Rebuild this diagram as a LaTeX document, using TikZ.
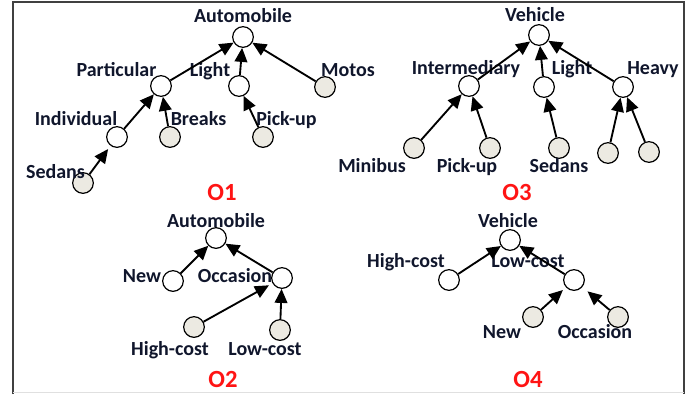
\documentclass[tikz,border=0pt]{standalone}
\usepackage{fontspec}
\setmainfont{Carlito}
\usetikzlibrary{arrows.meta}
\definecolor{ink}{RGB}{16,22,44}
\definecolor{leaf}{RGB}{236,234,226}
\definecolor{tag}{RGB}{255,20,20}
\begin{document}
\begin{tikzpicture}[x=0.75pt,y=-0.75pt,
  concept/.style={circle,draw=black,line width=0.9pt,minimum size=15.5pt,inner sep=0pt,fill=white},
  leafc/.style={concept,fill=leaf},
  lbl/.style={font=\bfseries\fontsize{15}{15}\selectfont,text=ink,inner sep=0pt,anchor=base},
  tagl/.style={font=\bfseries\fontsize{18.5}{18.5}\selectfont,text=tag,inner sep=0pt,anchor=base},
  isa/.style={-{Triangle[length=10.5pt,width=9.5pt]},line width=1.4pt,black}]
\useasboundingbox (0,0) rectangle (692,394);
% frame
\draw[line width=1.5pt,black!75] (13,394) -- (13,2) -- (684,2) -- (684,394);
\draw[line width=0.8pt,black!12] (13,392.5) -- (684,392.5);

% ---------- O1 ----------
\node[concept] (a1) at (243,37) {};
\node[concept] (a1p) at (161,86) {};
\node[concept] (a1l) at (239,86) {};
\node[leafc] (a1m) at (325,87) {};
\node[concept] (a1i) at (117,137) {};
\node[leafc] (a1b) at (170,137) {};
\node[leafc] (a1k) at (263,137) {};
\node[leafc] (a1s) at (83,183) {};
\node[lbl] (t1a) at (243,22) {Automobile};
\node[lbl] (t1p) at (116.5,76) {Particular};
\node[lbl] (t1l) at (210,76) {Light};
\node[lbl] (t1m) at (348,76) {Motos};
\node[lbl] (t1i) at (76,125) {Individual};
\node[lbl] (t1b) at (198.5,125) {Breaks};
\node[lbl] (t1k) at (286.5,125) {Pick-up};
\node[lbl] (t1s) at (55.5,178) {Sedans};
\node[tagl] (o1) at (222,200) {O1};
\draw[isa] (a1p) -- (a1);
\draw[isa] (a1l) -- (a1);
\draw[isa] (a1m) -- (a1);
\draw[isa] (a1i) -- (a1p);
\draw[isa] (a1b) -- (a1p);
\draw[isa] (a1k) -- (a1l);
\draw[isa,shorten >=3pt] (a1s) -- (a1i);

% ---------- O3 ----------
\node[concept] (v3) at (539,35) {};
\node[concept] (v3i) at (469,86) {};
\node[concept] (v3l) at (544,87) {};
\node[concept] (v3h) at (623,87) {};
\node[leafc] (v3m) at (414,148) {};
\node[leafc] (v3k) at (490,148) {};
\node[leafc] (v3s) at (559,148) {};
\node[leafc] (v3x) at (608,153) {};
\node[leafc] (v3y) at (649,152) {};
\node[lbl] (t3v) at (535,21) {Vehicle};
\node[lbl] (t3i) at (466,74) {Intermediary};
\node[lbl] (t3l) at (572,74) {Light};
\node[lbl] (t3h) at (653,74) {Heavy};
\node[lbl] (t3m) at (372,172) {Minibus};
\node[lbl] (t3k) at (467,172) {Pick-up};
\node[lbl] (t3s) at (559,172) {Sedans};
\node[tagl] (o3) at (517,200) {O3};
\draw[isa] (v3i) -- (v3);
\draw[isa] (v3l) -- (v3);
\draw[isa] (v3h) -- (v3);
\draw[isa] (v3m) -- (v3i);
\draw[isa] (v3k) -- (v3i);
\draw[isa] (v3s) -- (v3l);
\draw[isa] (v3x) -- (v3h);
\draw[isa] (v3y) -- (v3h);

% ---------- O2 ----------
\node[concept] (a2) at (216,238) {};
\node[concept] (a2n) at (173,281) {};
\node[concept] (a2o) at (282,278) {};
\node[leafc] (a2h) at (194,327) {};
\node[leafc] (a2l) at (280,330) {};
\node[lbl] (t2a) at (216,227) {Automobile};
\node[lbl] (t2n) at (142,282) {New};
\node[lbl] (t2o) at (235,282) {Occasion};
\node[lbl] (t2h) at (170,355) {High-cost};
\node[lbl] (t2l) at (265,355) {Low-cost};
\node[tagl] (o2) at (223,387) {O2};
\draw[isa] (a2n) -- (a2);
\draw[isa] (a2o) -- (a2);
\draw[isa,shorten >=3pt] (a2h) -- (a2o);
\draw[isa] (a2l) -- (a2o);

% ---------- O4 ----------
\node[concept] (v4) at (510,240) {};
\node[concept] (v4h) at (449,280) {};
\node[concept] (v4l) at (574,280) {};
\node[leafc] (v4n) at (533,317) {};
\node[leafc] (v4o) at (618,317) {};
\node[lbl] (t4v) at (508,227) {Vehicle};
\node[lbl] (t4h) at (406,267) {High-cost};
\node[lbl] (t4l) at (528,267) {Low-cost};
\node[lbl] (t4n) at (502,338) {New};
\node[lbl] (t4o) at (595,338) {Occasion};
\node[tagl] (o4) at (528,387) {O4};
\draw[isa] (v4h) -- (v4);
\draw[isa] (v4l) -- (v4);
\draw[isa,shorten >=3pt] (v4n) -- (v4l);
\draw[isa,shorten >=5pt] (v4o) -- (v4l);
\end{tikzpicture}
\end{document}
